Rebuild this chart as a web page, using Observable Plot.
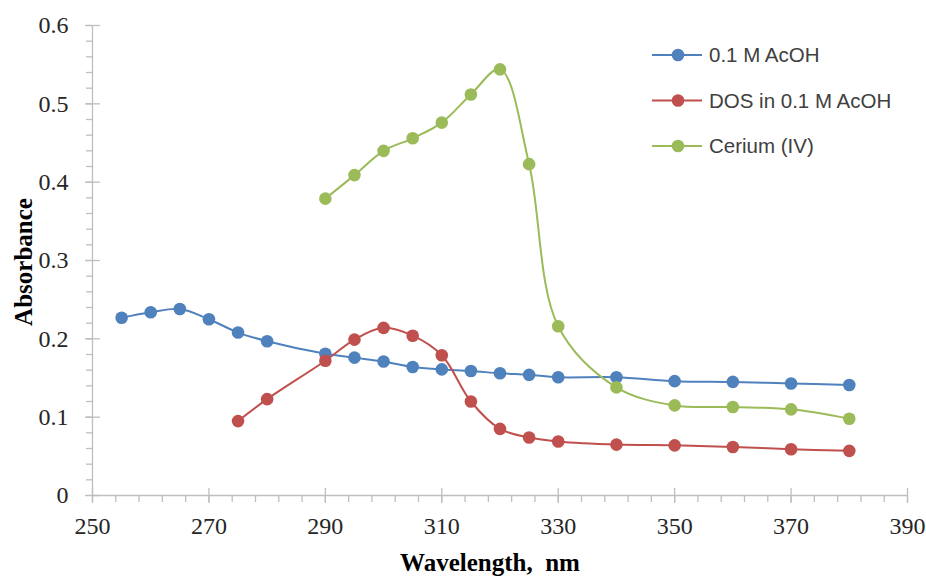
<!DOCTYPE html>
<html>
<head>
<meta charset="utf-8">
<script src="https://cdn.jsdelivr.net/npm/d3@7"></script>
<script src="https://cdn.jsdelivr.net/npm/@observablehq/plot@0.6"></script>
<style>
  html, body { margin: 0; padding: 0; background: #fff; }
  #chart { position: relative; width: 926px; height: 577px; }
</style>
</head>
<body>
<div id="chart"></div>
<script>
// ---- data ----
const seriesNames = ["0.1 M AcOH", "DOS in 0.1 M AcOH", "Cerium (IV)"];
const seriesColors = ["#4F81BD", "#C0504D", "#9BBB59"];

const acohX = [255, 260, 265, 270, 275, 280, 290, 295, 300, 305, 310, 315, 320, 325, 330, 340, 350, 360, 370, 380];
const acohY = [0.227, 0.234, 0.238, 0.225, 0.208, 0.197, 0.181, 0.176, 0.171, 0.164, 0.161, 0.159, 0.156, 0.154, 0.151, 0.151, 0.146, 0.145, 0.143, 0.141];

const dosX = [275, 280, 290, 295, 300, 305, 310, 315, 320, 325, 330, 340, 350, 360, 370, 380];
const dosY = [0.095, 0.123, 0.172, 0.199, 0.214, 0.204, 0.179, 0.120, 0.085, 0.074, 0.069, 0.065, 0.064, 0.062, 0.059, 0.057];

const ceX = [290, 295, 300, 305, 310, 315, 320, 325, 330, 340, 350, 360, 370, 380];
const ceY = [0.379, 0.409, 0.440, 0.456, 0.476, 0.512, 0.544, 0.423, 0.216, 0.138, 0.115, 0.113, 0.110, 0.098];

const xMajorTicks = [250, 270, 290, 310, 330, 350, 370, 390];
const xMinorTicks = d3.range(250, 390.01, 4);
const yMajorTicks = [0, 0.1, 0.2, 0.3, 0.4, 0.5, 0.6];
const yMinorTicks = d3.range(0, 0.6001, 0.02);
const yTickLabels = ["0", "0.1", "0.2", "0.3", "0.4", "0.5", "0.6"];

const xTitle = "Wavelength,  nm";
const yTitle = "Absorbance";

// ---- build table ----
const rows = [];
[[acohX, acohY], [dosX, dosY], [ceX, ceY]].forEach(([xs, ys], i) => {
  xs.forEach((x, j) => rows.push({series: seriesNames[i], x, y: ys[j]}));
});

const axisColor = "#BFBFBF";
const serif = "'Liberation Serif', 'Times New Roman', serif";

const plot = Plot.plot({
  width: 926,
  height: 577,
  marginLeft: 92,
  marginRight: 19,
  marginTop: 25,
  marginBottom: 82,
  style: {fontFamily: serif, background: "#fff"},
  x: {domain: [250, 390]},
  y: {domain: [0, 0.6]},
  color: {domain: seriesNames, range: seriesColors},
  marks: [
    // axis lines
    Plot.ruleY([0], {stroke: axisColor, strokeWidth: 1.3}),
    Plot.ruleX([250], {stroke: axisColor, strokeWidth: 1.3}),
    // minor ticks
    Plot.axisX({ticks: xMinorTicks, tickSize: 7, text: null, label: null, stroke: axisColor, strokeWidth: 1.3}),
    Plot.axisY({ticks: yMinorTicks, tickSize: 6, text: null, label: null, stroke: axisColor, strokeWidth: 1.3}),
    // major ticks crossing the axis
    Plot.axisX({ticks: xMajorTicks, tickSize: 15, dy: -7, text: null, label: null, stroke: axisColor, strokeWidth: 1.3}),
    Plot.axisY({ticks: yMajorTicks, tickSize: 15, dx: 8, text: null, label: null, stroke: axisColor, strokeWidth: 1.3}),
    // tick labels
    Plot.axisX({ticks: xMajorTicks, tickSize: 0, tickPadding: 21, fontSize: 24, fill: "#262626", label: null}),
    Plot.axisY({ticks: yMajorTicks, tickSize: 0, tickPadding: 24, fontSize: 24, fill: "#262626", label: null,
      tickFormat: (d) => yTickLabels[yMajorTicks.indexOf(d)] ?? d3.format("")(d)}),
    // data
    Plot.line(rows, {x: "x", y: "y", z: "series", stroke: "series", strokeWidth: 2, curve: "catmull-rom"}),
    Plot.dot(rows, {x: "x", y: "y", fill: "series", r: 6.3, stroke: "none"})
  ]
});

const svg = d3.select(plot);
// axis titles
svg.append("text")
  .attr("x", 490).attr("y", 571)
  .attr("text-anchor", "middle")
  .attr("font-family", serif).attr("font-weight", "bold").attr("font-size", 25)
  .attr("fill", "#000")
  .style("white-space", "pre")
  .attr("xml:space", "preserve")
  .text(xTitle);
svg.append("text")
  .attr("transform", "translate(32,262) rotate(-90)")
  .attr("text-anchor", "middle")
  .attr("font-family", serif).attr("font-weight", "bold").attr("font-size", 25)
  .attr("fill", "#000")
  .text(yTitle);

// legend
const lg = svg.append("g")
  .attr("font-family", "'Liberation Sans', Arial, sans-serif")
  .attr("font-size", 20.5)
  .attr("text-anchor", "start");
seriesNames.forEach((name, i) => {
  const y = 55 + i * 45.5;
  lg.append("line").attr("x1", 652).attr("x2", 702).attr("y1", y).attr("y2", y)
    .attr("stroke", seriesColors[i]).attr("stroke-width", 2);
  lg.append("circle").attr("cx", 678).attr("cy", y).attr("r", 6.3).attr("fill", seriesColors[i]);
  lg.append("text").attr("x", 709).attr("y", y).attr("dy", "0.35em")
    .attr("text-anchor", "start").attr("fill", "#404040").text(name);
});

document.getElementById("chart").appendChild(plot);
</script>
</body>
</html>
